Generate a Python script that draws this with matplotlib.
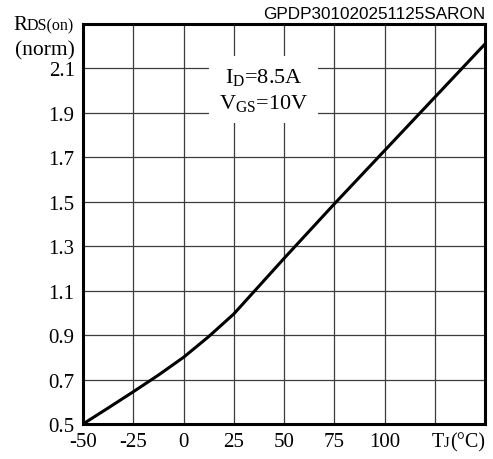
import matplotlib
matplotlib.use("Agg")
import matplotlib.pyplot as plt

# curve readings: junction temperature (degC) vs normalised RDS(on)
tj = [-50, -37.5, -25, -12.5, 0, 12.5, 25, 37.5, 50, 75, 100, 125, 150]
rds = [0.50, 0.572, 0.645, 0.72, 0.80, 0.893, 0.995, 1.12, 1.245, 1.49, 1.73, 1.97, 2.21]

x_ticks = [-50, -25, 0, 25, 50, 75, 100, 125]
x_labels = ["-50", "-25", "0", "25", "50", "75", "100", ""]
y_ticks = [0.5, 0.7, 0.9, 1.1, 1.3, 1.5, 1.7, 1.9, 2.1]
y_labels = ["0.5", "0.7", "0.9", "1.1", "1.3", "1.5", "1.7", "1.9", "2.1"]

W, H = 493, 460
SERIF = "Liberation Serif"

plt.rcParams["font.family"] = SERIF
plt.rcParams["mathtext.fontset"] = "custom"
plt.rcParams["mathtext.rm"] = SERIF
plt.rcParams["mathtext.default"] = "regular"

fig = plt.figure(figsize=(W / 100, H / 100), dpi=100)
ax = fig.add_axes([83 / W, 35 / H, 402 / W, 400 / H])

ax.plot(tj, rds, color="black", lw=2.2, solid_capstyle="butt", zorder=3)

ax.set_xlim(-50, 150)
ax.set_ylim(0.5, 2.3)
ax.set_xticks(x_ticks)
ax.set_xticklabels(x_labels)
ax.set_yticks(y_ticks)
ax.set_yticklabels(y_labels)
ax.tick_params(length=0, labelsize=15)
ax.tick_params(axis="x", pad=6)
ax.tick_params(axis="y", pad=6)
ax.grid(True, color="#3c3c3c", lw=0.9)
ax.set_axisbelow(True)
for sp in ax.spines.values():
    sp.set_linewidth(2.2)

# test conditions with white box hiding the grid
ax.text(40, 2.005, "$I_D$=8.5A\n$V_{GS}$=10V", ha="center", va="center",
        fontsize=16, linespacing=1.3, zorder=2,
        bbox=dict(facecolor="white", edgecolor="none", pad=7))

fig.canvas.draw()
renderer = fig.canvas.get_renderer()


def mixed_text(x, y, parts):
    """Draw text pieces one after another on a common baseline (pixel coords)."""
    for s, size in parts:
        t = fig.text(x / W, 1 - y / H, s, fontsize=size, ha="left", va="baseline")
        x += t.get_window_extent(renderer).width


mixed_text(13, 30, [("R", 15), ("DS(on)", 11.5)])
fig.text(75 / W, 1 - 55 / H, "(norm)", fontsize=15.5, ha="right", va="baseline")
mixed_text(432, 447, [("T", 14.5), ("J", 10.5), ("(°C)", 14.5)])

fig.text(485 / W, 1 - 19 / H, "GPDP301020251125SARON", family="Liberation Sans",
         fontsize=12.3, ha="right", va="baseline")

fig.savefig("out.png", dpi=100)
